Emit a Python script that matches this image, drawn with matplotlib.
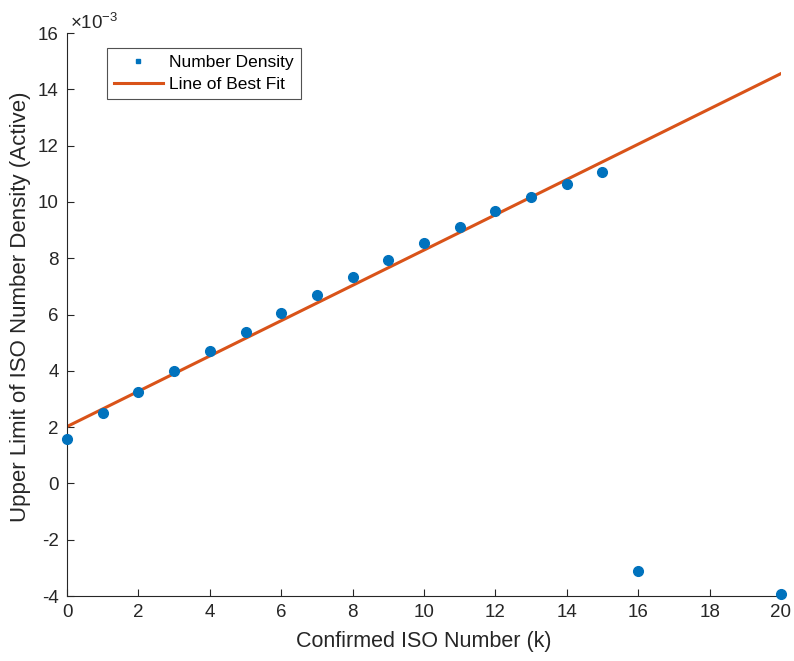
import matplotlib.pyplot as plt
import numpy as np

plt.rcParams['font.family'] = ['Liberation Sans', 'DejaVu Sans']
plt.rcParams['axes.unicode_minus'] = False

# Confirmed ISO number vs upper-limit number density (x1e-3)
k = [0, 1, 2, 3, 4, 5, 6, 7, 8, 9, 10, 11, 12, 13, 14, 15, 16, 20]
density = [1.58, 2.50, 3.26, 4.00, 4.71, 5.39, 6.06, 6.70, 7.34, 7.94,
           8.55, 9.11, 9.68, 10.18, 10.64, 11.06, -3.11, -3.93]

# Line of best fit endpoints
fit_k = [0, 20]
fit_density = [2.02, 14.56]

fig = plt.figure(figsize=(7.94, 6.61), dpi=100)
ax = fig.add_axes([0.0844, 0.0983, 0.8992, 0.8517])

blue = '#0072BD'
orange = '#D95319'
ink = '#262626'

ax.plot(k, density, linestyle='none', marker='o', markersize=7,
        color=blue, label='Number Density', clip_on=False, zorder=3)
ax.plot(fit_k, fit_density, color=orange, linewidth=2.2,
        label='Line of Best Fit', zorder=2)

ax.set_xlim(0, 20)
ax.set_ylim(-4, 16)
ax.set_xticks(np.arange(0, 21, 2))
ax.set_yticks(np.arange(-4, 17, 2))

for side in ('top', 'right'):
    ax.spines[side].set_visible(False)
for side in ('left', 'bottom'):
    ax.spines[side].set_color(ink)
    ax.spines[side].set_linewidth(0.8)
ax.tick_params(direction='in', length=5, width=0.8, colors=ink,
               labelsize=13.5, labelcolor=ink, pad=6)

ax.set_xlabel('Confirmed ISO Number (k)', fontsize=15.5, color=ink)
ax.set_ylabel('Upper Limit of ISO Number Density (Active)', fontsize=16,
              color=ink)
ax.xaxis.set_label_coords(0.5, -0.063)
ax.yaxis.set_label_coords(-0.05, 0.513)

ax.text(0.004, 1.0, '\u00d710$^{\\mathregular{-3}}$', transform=ax.transAxes,
        fontsize=13.5, color=ink, ha='left', va='bottom')

leg = ax.legend(loc='upper left', bbox_to_anchor=(0.056, 0.973), fontsize=12.5,
                frameon=True, fancybox=False, edgecolor=ink,
                handlelength=2.8, borderpad=0.4, labelspacing=0.35,
                handletextpad=0.4, borderaxespad=0)
leg.get_frame().set_linewidth(0.8)
leg.legend_handles[0].set_markersize(3)
leg.legend_handles[0].set_marker('s')

fig.savefig('out.png', dpi=100, facecolor='white')
